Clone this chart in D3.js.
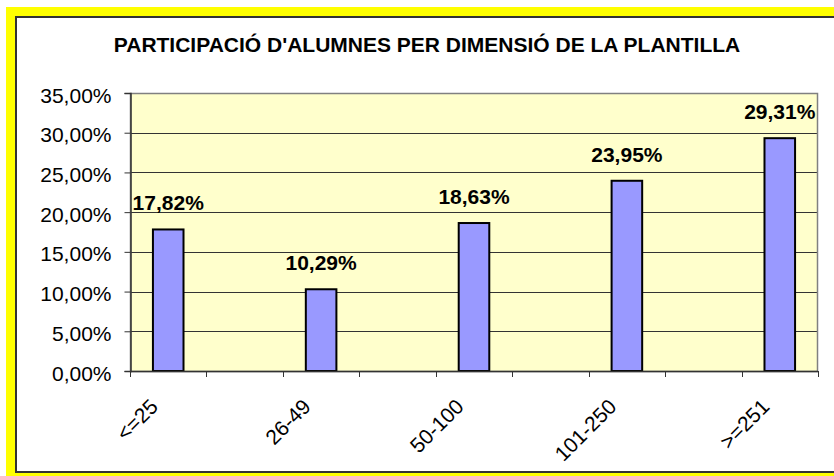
<!DOCTYPE html>
<html>
<head>
<meta charset="utf-8">
<script src="https://cdn.jsdelivr.net/npm/d3@7"></script>
<style>
  html, body { margin: 0; padding: 0; background: #fff; }
  svg { display: block; }
  text { font-family: "Liberation Sans", Arial, sans-serif; }
</style>
</head>
<body>
<svg id="chart" width="834" height="476"></svg>
<script>
const title = "PARTICIPACIÓ D'ALUMNES PER DIMENSIÓ DE LA PLANTILLA";
const categories = ["<=25", "26-49", "50-100", "101-250", ">=251"];
const values = [17.82, 10.29, 18.63, 23.95, 29.31];
const valueLabels = ["17,82%", "10,29%", "18,63%", "23,95%", "29,31%"];
const yTicks = [0, 5, 10, 15, 20, 25, 30, 35];
const yTickLabels = ["0,00%", "5,00%", "10,00%", "15,00%", "20,00%", "25,00%", "30,00%", "35,00%"];

// Slots: each category is followed by an empty spacer slot (as in the original)
const slots = [];
categories.forEach((c, i) => {
  slots.push("c" + i);
  if (i < categories.length - 1) slots.push("s" + i);
});

const svg = d3.select("#chart");

// Outer frame: yellow border, dark inner line, white chart area
svg.append("rect").attr("x", 6).attr("y", 7).attr("width", 900).attr("height", 500).attr("fill", "#FFFF00");
svg.append("rect").attr("x", 15).attr("y", 16).attr("width", 900).attr("height", 457).attr("fill", "#333333");
svg.append("rect").attr("x", 17).attr("y", 18).attr("width", 900).attr("height", 453).attr("fill", "#FFFFFF");

const plot = { left: 130, right: 818, top: 93, bottom: 371 };

const x = d3.scaleBand().domain(slots).range([plot.left, plot.right]).paddingInner(0).paddingOuter(0);
const y = d3.scaleLinear().domain([0, 35]).range([plot.bottom, plot.top]);

// Plot background
svg.append("rect")
  .attr("x", plot.left).attr("y", plot.top)
  .attr("width", plot.right - plot.left).attr("height", plot.bottom - plot.top)
  .attr("fill", "#FFFFCC");

// Gridlines
svg.append("g").selectAll("line").data(yTicks.filter(t => t > 0 && t < 35)).join("line")
  .attr("x1", plot.left).attr("x2", plot.right)
  .attr("y1", d => Math.round(y(d)) + 0.5).attr("y2", d => Math.round(y(d)) + 0.5)
  .attr("stroke", "#333333").attr("stroke-width", 1);

// Plot border (gray)
svg.append("rect")
  .attr("x", plot.left + 0.5).attr("y", plot.top + 0.5)
  .attr("width", plot.right - plot.left - 1).attr("height", plot.bottom - plot.top)
  .attr("fill", "none").attr("stroke", "#808080").attr("stroke-width", 1.5);

// Bars
const barW = x.bandwidth() / 2.5;
svg.append("g").selectAll("rect").data(values).join("rect")
  .attr("x", (d, i) => x("c" + i) + x.bandwidth() / 2 - barW / 2)
  .attr("y", d => y(d))
  .attr("width", barW)
  .attr("height", d => y(0) - y(d))
  .attr("fill", "#9999FF")
  .attr("stroke", "#000000")
  .attr("stroke-width", 2);

// Value labels
svg.append("g").selectAll("text").data(values).join("text")
  .attr("x", (d, i) => x("c" + i) + x.bandwidth() / 2)
  .attr("y", d => y(d) - 19)
  .attr("text-anchor", "middle")
  .attr("font-size", 21)
  .attr("font-weight", "bold")
  .attr("fill", "#000")
  .text((d, i) => valueLabels[i]);

// Y axis
const yAxis = d3.axisLeft(y).tickValues(yTicks).tickSize(6).tickPadding(13)
  .tickFormat((d, i) => yTickLabels[i]);
const gy = svg.append("g").attr("transform", `translate(${plot.left + 0.5},0)`).call(yAxis);
gy.select(".domain").attr("stroke", "#333333").attr("stroke-width", 1.5);
gy.selectAll(".tick line").attr("stroke", "#333333");
gy.selectAll(".tick text")
  .attr("font-size", 21).attr("font-family", "Liberation Sans, Arial, sans-serif")
  .attr("fill", "#000").attr("dy", "0.43em");

// X axis ticks at slot boundaries
const boundaries = slots.map(s => x(s)).concat([plot.right]);
svg.append("g").selectAll("line").data(boundaries).join("line")
  .attr("x1", d => Math.round(d) + 0.5).attr("x2", d => Math.round(d) + 0.5)
  .attr("y1", plot.bottom).attr("y2", plot.bottom + 6)
  .attr("stroke", "#333333").attr("stroke-width", 1);
svg.append("line")
  .attr("x1", plot.left).attr("x2", plot.right)
  .attr("y1", plot.bottom + 0.5).attr("y2", plot.bottom + 0.5)
  .attr("stroke", "#333333").attr("stroke-width", 1.5);

// X labels rotated
svg.append("g").selectAll("text").data(categories).join("text")
  .attr("transform", (d, i) => `translate(${x("c" + i) + x.bandwidth() / 2 - 9},408) rotate(-45)`)
  .attr("text-anchor", "end")
  .attr("font-size", 21)
  .attr("fill", "#000")
  .text(d => d);

// Title
svg.append("text")
  .attr("x", 427).attr("y", 52)
  .attr("text-anchor", "middle")
  .attr("font-size", 21)
  .attr("font-weight", "bold")
  .attr("fill", "#000")
  .text(title);
</script>
</body>
</html>
